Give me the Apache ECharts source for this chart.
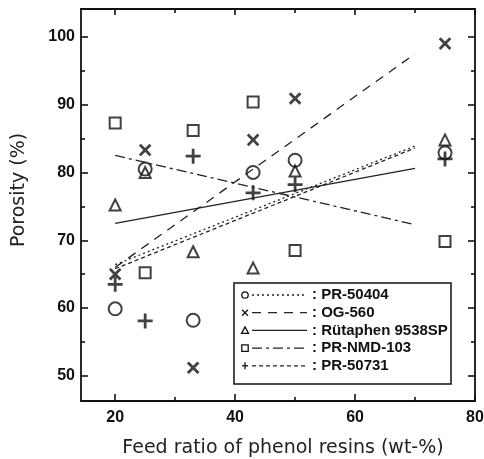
<!DOCTYPE html>
<html>
<head>
<meta charset="utf-8">
<script src="https://cdn.jsdelivr.net/npm/echarts@6/dist/echarts.min.js"></script>
<style>
html, body { margin: 0; padding: 0; background: #fff; }
#main { width: 484px; height: 459px; }
</style>
</head>
<body>
<div id="main"></div>
<script>
// axis ranges and ticks
var xMin = 14.3, xMax = 80, yMin = 46.3, yMax = 104.1;
var xMajor = [20, 40, 60, 80];
var xMinor = [30, 50, 70];
var yMajor = [50, 60, 70, 80, 90, 100];
var yMinor = [55, 65, 75, 85, 95];

// measured points (feed ratio wt-% vs porosity %)
var feedRatio = [20, 25, 33, 43, 50, 75];
var pr50404 = [59.9, 80.5, 58.2, 80.0, 81.8, 82.9];
var og560 = [65.0, 83.3, 51.2, 84.8, 90.9, 99.0];
var rutaphen = [75.2, 80.0, 68.3, 65.9, 80.2, 84.8];
var prNmd103 = [87.3, 65.2, 86.2, 90.4, 68.5, 69.8];
var pr50731 = [63.5, 58.1, 82.4, 77.0, 78.2, 82.0];

// fitted lines, end points
var fitX = [20, 70];
var fit50404 = [66.4, 83.9];
var fitOg560 = [66.0, 97.5];
var fitRutaphen = [72.5, 80.6];
var fitNmd103 = [82.5, 72.3];
var fit50731 = [65.8, 83.6];

var names = ['PR-50404', 'OG-560', 'Rütaphen 9538SP', 'PR-NMD-103', 'PR-50731'];

var INK = '#111';
var plusPath = 'path://M-1.3,-7H1.3V-1.3H7V1.3H1.3V7H-1.3V1.3H-7V-1.3H-1.3Z';

var sets = [
	{ y: pr50404, fit: fit50404, symbol: 'circle', size: 13, rot: 0, dash: [2, 3], hollow: true },
	{ y: og560, fit: fitOg560, symbol: plusPath, size: 15, rot: 45, dash: [9, 7], hollow: false },
	{ y: rutaphen, fit: fitRutaphen, symbol: 'triangle', size: 11, rot: 0, dash: 'solid', hollow: true },
	{ y: prNmd103, fit: fitNmd103, symbol: 'rect', size: 11, rot: 0, dash: [10, 4, 3, 4], hollow: true },
	{ y: pr50731, fit: fit50731, symbol: plusPath, size: 15, rot: 0, dash: [4, 3], hollow: false }
];

function pairs(xs, ys) {
	var out = [];
	for (var i = 0; i < xs.length; i++) {
		out.push([xs[i], ys[i]]);
	}
	return out;
}

function axis(dim, pos, ticks, len, main) {
	var a = {
		type: 'value',
		position: pos,
		min: dim == 'x' ? xMin : yMin,
		max: dim == 'x' ? xMax : yMax,
		splitLine: { show: false },
		axisLine: { show: main, lineStyle: { color: INK, width: 1.8 } },
		axisTick: { show: true, inside: true, length: len, customValues: ticks, lineStyle: { color: INK, width: 1.6 } },
		axisLabel: { show: false }
	};
	return a;
}

var xAxes = [
	axis('x', 'bottom', xMajor, 7, true),
	axis('x', 'bottom', xMinor, 4, false),
	axis('x', 'top', xMajor, 6, true),
	axis('x', 'top', xMinor, 4, false)
];
xAxes[0].axisLabel = {
	show: true, customValues: xMajor, margin: 9,
	color: INK, fontSize: 16, fontWeight: 'bold', fontFamily: 'Liberation Sans'
};
xAxes[0].name = 'Feed ratio of phenol resins (wt-%)';
xAxes[0].nameLocation = 'middle';
xAxes[0].nameGap = 38;
xAxes[0].nameTextStyle = { color: '#222', fontSize: 19, fontFamily: 'DejaVu Sans', padding: [0, 0, 0, 10] };

var yAxes = [
	axis('y', 'left', yMajor, 7, true),
	axis('y', 'left', yMinor, 4, false),
	axis('y', 'right', yMajor, 7, true),
	axis('y', 'right', yMinor, 4, false)
];
yAxes[0].axisLabel = {
	show: true, customValues: yMajor, margin: 6,
	color: INK, fontSize: 16, fontWeight: 'bold', fontFamily: 'Liberation Sans'
};
yAxes[0].name = 'Porosity (%)';
yAxes[0].nameLocation = 'middle';
yAxes[0].nameGap = 52;
yAxes[0].nameTextStyle = { color: '#222', fontSize: 19, fontFamily: 'DejaVu Sans', padding: [0, 0, 0, 30] };

var series = [];
for (var i = 0; i < sets.length; i++) {
	var s = sets[i];
	series.push({
		name: names[i] + ' fit',
		type: 'line',
		showSymbol: false,
		silent: true,
		animation: false,
		data: pairs(fitX, s.fit),
		lineStyle: { color: '#222', width: 1.3, type: s.dash }
	});
	series.push({
		name: names[i],
		type: 'scatter',
		symbol: s.symbol,
		symbolSize: s.size,
		symbolRotate: s.rot,
		animation: false,
		data: pairs(feedRatio, s.y),
		itemStyle: s.hollow
			? { color: 'rgba(0,0,0,0)', borderColor: INK, borderWidth: 2 }
			: { color: INK }
	});
}

// legend box drawn by hand: symbol, line sample, name
var lgX = 234, lgY = 283, rowH = 17.7;
var legendKids = [{
	type: 'rect',
	shape: { x: lgX, y: lgY, width: 217, height: 101 },
	style: { fill: '#fff', stroke: INK, lineWidth: 1.5 }
}];
for (var k = 0; k < names.length; k++) {
	var cy = lgY + 12 + k * rowH;
	var sx = 245;
	var st = { fill: 'none', stroke: INK, lineWidth: 1.3 };
	if (k == 0) legendKids.push({ type: 'circle', shape: { cx: sx, cy: cy, r: 3.2 }, style: st });
	if (k == 1) {
		legendKids.push({ type: 'line', shape: { x1: sx - 3, y1: cy - 3, x2: sx + 3, y2: cy + 3 }, style: st });
		legendKids.push({ type: 'line', shape: { x1: sx - 3, y1: cy + 3, x2: sx + 3, y2: cy - 3 }, style: st });
	}
	if (k == 2) legendKids.push({ type: 'polygon', shape: { points: [[sx, cy - 3.5], [sx - 3.5, cy + 3], [sx + 3.5, cy + 3]] }, style: st });
	if (k == 3) legendKids.push({ type: 'rect', shape: { x: sx - 3.2, y: cy - 3.2, width: 6.4, height: 6.4 }, style: st });
	if (k == 4) {
		legendKids.push({ type: 'line', shape: { x1: sx, y1: cy - 3.5, x2: sx, y2: cy + 3.5 }, style: st });
		legendKids.push({ type: 'line', shape: { x1: sx - 3, y1: cy, x2: sx + 3, y2: cy }, style: st });
	}
	legendKids.push({
		type: 'line',
		shape: { x1: 252, y1: cy, x2: 307, y2: cy },
		style: { stroke: '#222', lineWidth: 1.3, lineDash: sets[k].dash == 'solid' ? null : sets[k].dash }
	});
	legendKids.push({
		type: 'text',
		x: 312, y: cy,
		style: {
			text: ': ' + names[k], fill: INK, font: 'bold 15px "Liberation Sans"',
			textVerticalAlign: 'middle', verticalAlign: 'middle'
		}
	});
}

var myChart = echarts.init(document.getElementById('main'), null, { renderer: 'canvas' });
var option = {
	backgroundColor: '#fff',
	animation: false,
	grid: { left: 81, right: 9, top: 9, bottom: 58, containLabel: false, outerBoundsMode: 'none' },
	xAxis: xAxes,
	yAxis: yAxes,
	series: series,
	graphic: [{ type: 'group', z: 100, children: legendKids }]
};
myChart.setOption(option);
</script>
</body>
</html>
